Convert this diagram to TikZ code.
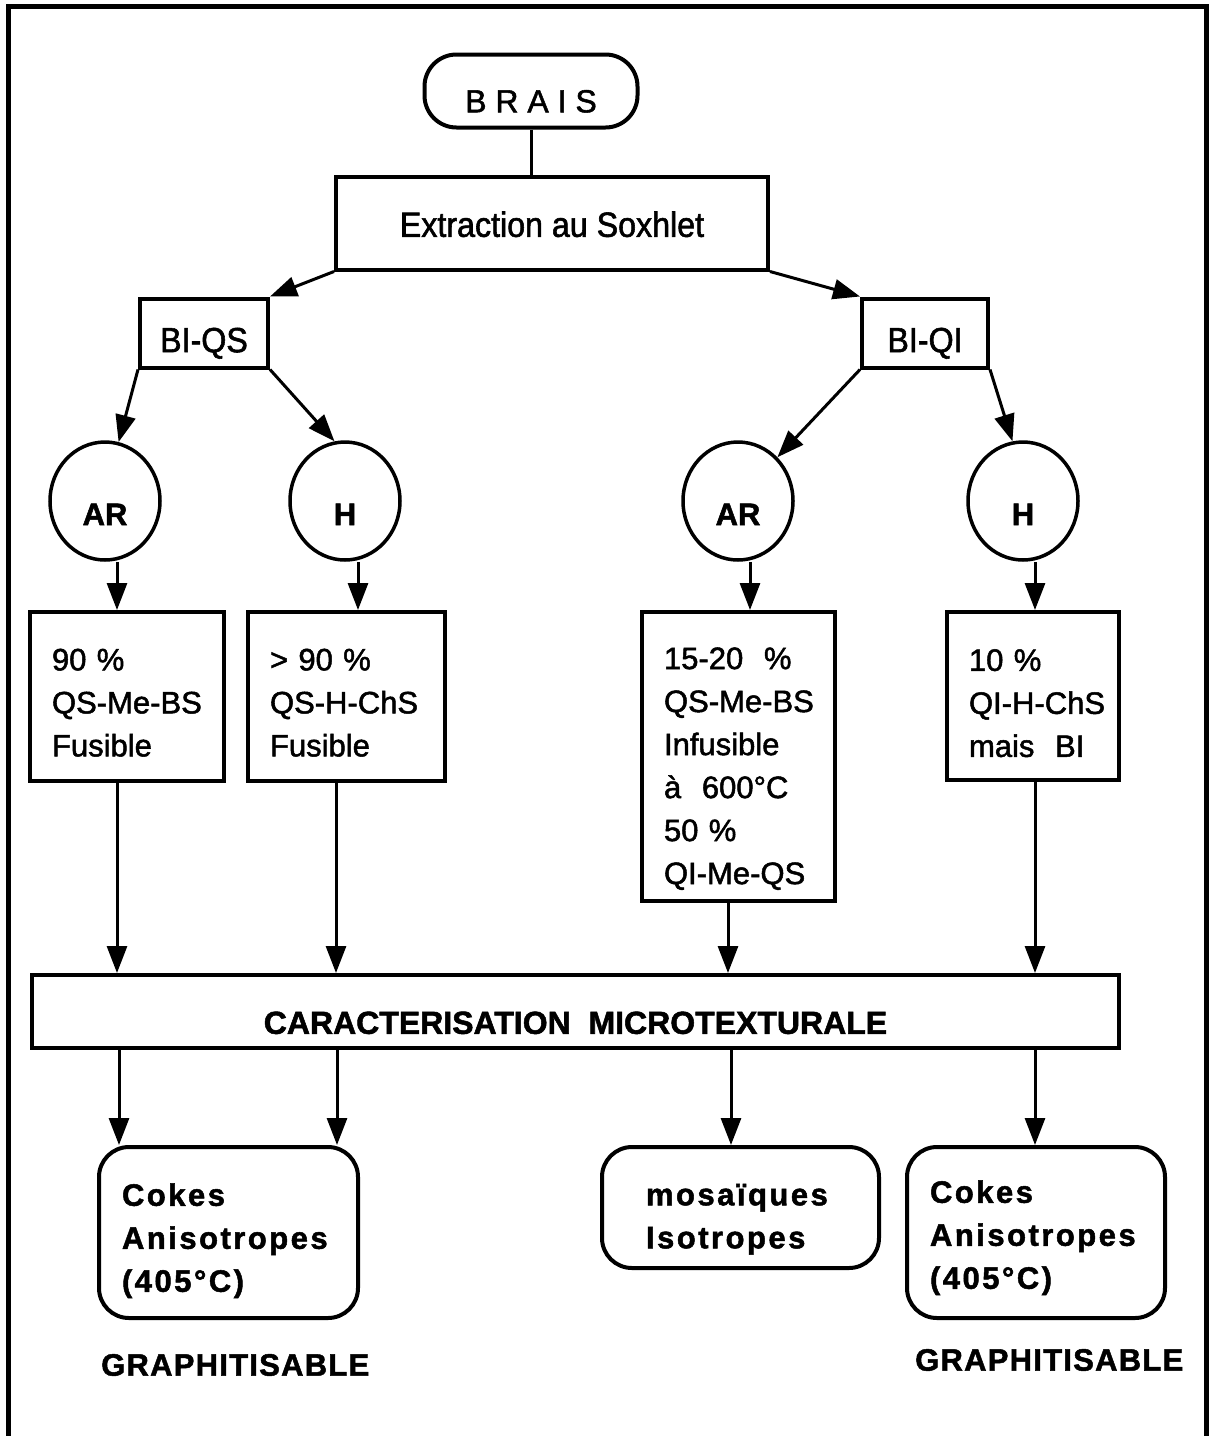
\documentclass[tikz,border=0pt]{standalone}
\usepackage{fontspec}
\setmainfont{Liberation Sans}[FakeBold=1.6]
\newfontfamily\narrowf{Liberation Sans}[FakeStretch=0.92,FakeBold=1.6]
\newfontfamily\spaced{Liberation Sans}[LetterSpace=8,FakeBold=1.6]
\newfontfamily\spacedg{Liberation Sans}[LetterSpace=4,FakeBold=1.6]
\usetikzlibrary{arrows.meta,shapes.geometric}
\newcommand{\lift}[1]{\rule{0pt}{#1pt}}
\begin{document}
\exhyphenpenalty=10000
\hyphenpenalty=10000
\begin{tikzpicture}[x=1pt,y=-1pt,
  box/.style={draw, line width=4pt, rectangle, inner sep=0pt},
  txtbox/.style={box, align=left, inner xsep=22pt, font=\fontsize{31}{43}\selectfont},
  rbox/.style={draw, line width=4pt, rectangle, rounded corners=30pt, align=left, inner ysep=0pt, font=\spaced\bfseries\fontsize{31}{43}\selectfont},
  circ/.style={draw, ellipse, line width=3.5pt, minimum width=110pt, minimum height=118pt, inner sep=0pt, font=\bfseries\fontsize{31}{37}\selectfont},
  arr/.style={line width=3pt, -{Triangle[length=27pt,width=20pt]}},
  plain/.style={line width=3pt},
  lbl/.style={anchor=west, inner sep=0pt, font=\spacedg\bfseries\fontsize{31}{37}\selectfont}
]
\useasboundingbox (0,0) rectangle (1210,1436);
\draw[line width=5pt] (8,1436) -- (8,6) -- (1206,6) -- (1206,1436);

% top
\node[box, rounded corners=32pt, minimum width=213pt, minimum height=73pt, font=\fontsize{32}{38}\selectfont] (brais) at (531,91) {\lift{43}B R A I S};
\node[box, minimum width=432pt, minimum height=93pt, font=\narrowf\fontsize{35}{40}\selectfont] (ext) at (552,223) {\lift{28}Extraction au Soxhlet};
\node[box, minimum width=128pt, minimum height=69pt, font=\narrowf\fontsize{35}{40}\selectfont] (biqs) at (204,333) {\lift{45}BI-QS};
\node[box, minimum width=126pt, minimum height=69pt, font=\narrowf\fontsize{35}{40}\selectfont] (biqi) at (925,333) {\lift{45}BI-QI};

% ellipses
\node[circ] (ar1) at (105,501) {\lift{48}AR};
\node[circ] (h1) at (345,501) {\lift{48}H};
\node[circ] (ar2) at (738,501) {\lift{48}AR};
\node[circ] (h2) at (1023,501) {\lift{48}H};

% text boxes
\node[txtbox, text width=150pt, minimum height=169pt] (b1) at (127,696.5) {\lift{34}90 \%\\QS-Me-BS\\Fusible};
\node[txtbox, text width=153pt, minimum height=169pt] (b2) at (346.5,696.5) {\lift{34}> 90 \%\\QS-H-ChS\\Fusible};
\node[txtbox, text width=149pt, minimum height=289pt] (b3) at (738.5,756.5) {\lift{46}15-20\ \ \%\\QS-Me-BS\\Infusible\\à\ \ 600°C\\50 \%\\QI-Me-QS};
\node[txtbox, text width=128pt, minimum height=168pt] (b4) at (1033,696) {\lift{36}10 \%\\QI-H-ChS\\mais\ \ BI};

% characterisation
\node[box, minimum width=1087pt, minimum height=73pt, font=\bfseries\fontsize{32}{37}\selectfont] (carac) at (575.5,1011.5) {\lift{45}CARACTERISATION\ \ MICROTEXTURALE};

% results
\node[rbox, inner xsep=23pt, text width=213pt, minimum height=171pt] (c1) at (228.5,1232.5) {\lift{39}Cokes\\Anisotropes\\(405°C)};
\node[rbox, inner xsep=44pt, text width=189pt, minimum height=121pt] (m) at (740.5,1207.5) {\lift{45}mosaïques\\Isotropes};
\node[rbox, inner xsep=23pt, text width=212pt, minimum height=171pt] (c2) at (1036,1232.5) {\lift{33}Cokes\\Anisotropes\\(405°C)};

\node[lbl] (g1) at (101,1365) {GRAPHITISABLE};
\node[lbl] (g2) at (915,1360) {GRAPHITISABLE};

% x positions of vertical connectors
\coordinate (xa) at (117,0);
\coordinate (xb) at (358,0);
\coordinate (xc) at (750,0);
\coordinate (xd) at (1035,0);
\coordinate (xe) at (336,0);
\coordinate (xf) at (728,0);
\coordinate (xg) at (119,0);
\coordinate (xh) at (337,0);
\coordinate (xi) at (731,0);

% connectors
\draw[plain] (brais.south) -- (brais.south |- ext.north);
\draw[arr] (ext.south west) -- (biqs.north east);
\draw[arr] (ext.south east) -- (biqi.north west);
\draw[arr] (biqs.south west) -- (ar1.77);
\draw[arr] (biqs.south east) -- (h1.100);
\draw[arr] (biqi.south west) -- (ar2.48);
\draw[arr] (biqi.south east) -- (h2.100);

\draw[arr] (ar1.south -| xa) -- (b1.north -| xa);
\draw[arr] (h1.south -| xb) -- (b2.north -| xb);
\draw[arr] (ar2.south -| xc) -- (b3.north -| xc);
\draw[arr] (h2.south -| xd) -- (b4.north -| xd);

\draw[arr] (b1.south -| xa) -- (carac.north -| xa);
\draw[arr] (b2.south -| xe) -- (carac.north -| xe);
\draw[arr] (b3.south -| xf) -- (carac.north -| xf);
\draw[arr] (b4.south -| xd) -- (carac.north -| xd);

\draw[arr] (carac.south -| xg) -- (c1.north -| xg);
\draw[arr] (carac.south -| xh) -- (c1.north -| xh);
\draw[arr] (carac.south -| xi) -- (m.north -| xi);
\draw[arr] (carac.south -| xd) -- (c2.north -| xd);
\end{tikzpicture}
\end{document}
